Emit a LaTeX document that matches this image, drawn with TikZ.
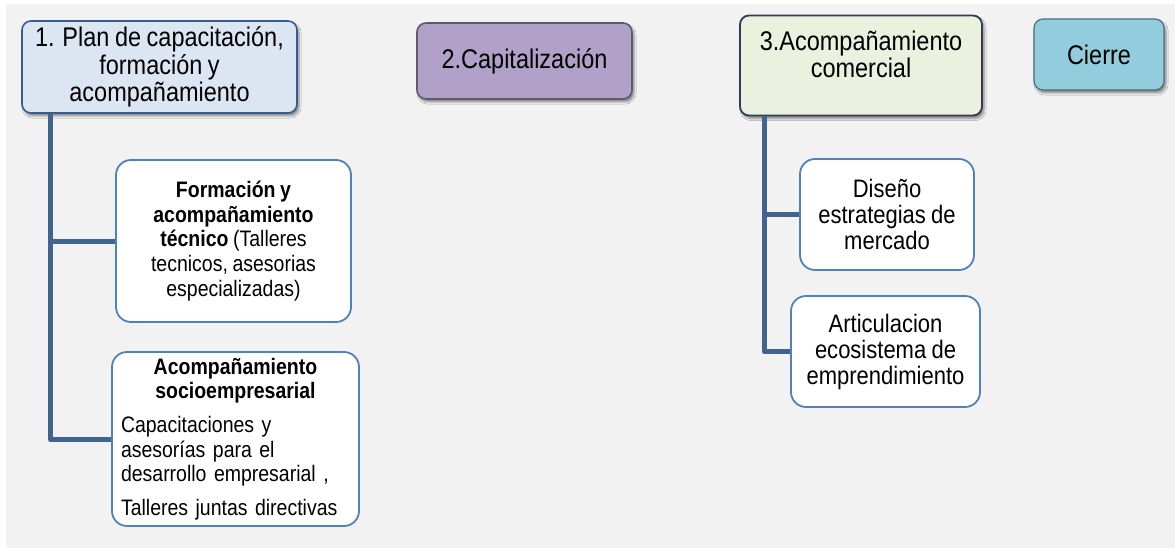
\documentclass[tikz,border=0pt]{standalone}
\usepackage{fontspec}
\setmainfont{Liberation Sans}[FakeStretch=0.87, WordSpace=0.85]
\usetikzlibrary{shadows.blur}
\definecolor{bggray}{HTML}{F2F2F2}
\definecolor{bonefill}{HTML}{DCE6F2}
\definecolor{bonedraw}{HTML}{385D8A}
\definecolor{btwofill}{HTML}{B1A0C7}
\definecolor{btwodraw}{HTML}{5E5A6E}
\definecolor{bthreefill}{HTML}{EBF1DE}
\definecolor{bthreedraw}{HTML}{2E3D55}
\definecolor{bcierrefill}{HTML}{93CDDD}
\definecolor{bcierredraw}{HTML}{4D6F7A}
\definecolor{childdraw}{HTML}{4F81BD}
\definecolor{conncol}{HTML}{41648F}
\tikzset{
  topbox/.style={rectangle, rounded corners=9pt, line width=1.6pt, align=center,
    inner sep=0pt, font=\fontsize{27}{27.5}\selectfont,
    blur shadow={shadow xshift=2pt, shadow yshift=-3pt, shadow blur steps=6, shadow opacity=45}},
  childbox/.style={rectangle, rounded corners=15pt, line width=1.8pt, draw=childdraw,
    fill=white, inner sep=0pt},
  conn/.style={draw=conncol, line width=5pt, line join=round}
}
\begin{document}
\begin{tikzpicture}[x=1pt,y=-1pt]
\useasboundingbox (0,0) rectangle (1175,548);
\fill[bggray] (6,4) rectangle (1175,548);

\node[topbox, fill=bonefill, draw=bonedraw, minimum width=275pt, minimum height=92pt] (b1) at (159.5,67)
  {1. Plan de capacitación,\\formación y\\acompañamiento};
\node[topbox, fill=btwofill, draw=btwodraw, minimum width=215pt, minimum height=76pt] (b2) at (524.5,61)
  {2.Capitalización};
\node[topbox, fill=bthreefill, draw=bthreedraw, minimum width=242pt, minimum height=100pt, line width=1.8pt, text depth=23pt] (b3) at (861,65.5)
  {3.Acompañamiento\\comercial};
\node[topbox, fill=bcierrefill, draw=bcierredraw, minimum width=130pt, minimum height=71pt, line width=1.2pt] (b4) at (1099,54.5)
  {Cierre};

\node[childbox, minimum width=235pt, minimum height=162pt, align=center,
  font=\fontsize{22.4}{24.6}\selectfont] (c1) at (233.5,241)
  {\textbf{Formación y}\\\textbf{acompañamiento}\\\textbf{técnico} (Talleres\\tecnicos, asesorias\\especializadas)};

\node[childbox, minimum width=247pt, minimum height=174pt, text width=229pt,
  font=\fontsize{22.4}{24.6}\selectfont] (c2) at (235.5,439)
  {\centering\textbf{Acompañamiento}\\\textbf{socioempresarial}\par
   \vspace{9pt}\raggedright Capacitaciones y\\asesorías para el\\desarrollo empresarial ,\par
   \vspace{9pt}Talleres juntas directivas\par};

\node[childbox, minimum width=174pt, minimum height=111pt, align=center,
  font=\fontsize{25.3}{26}\selectfont] (ca) at (887,214.5)
  {Diseño\\estrategias de\\mercado};
\node[childbox, minimum width=189pt, minimum height=111pt, align=center,
  font=\fontsize{25.3}{26}\selectfont] (cb) at (885.5,351.5)
  {Articulacion\\ecosistema de\\emprendimiento};

\coordinate (t1) at (50,0);
\coordinate (t3) at (764,0);
\draw[conn] (t1 |- b1.south) |- (c1.west);
\draw[conn] (t1 |- b1.south) |- (c2.west);
\draw[conn] (t3 |- b3.south) |- (ca.west);
\draw[conn] (t3 |- b3.south) |- (cb.west);
\end{tikzpicture}
\end{document}
